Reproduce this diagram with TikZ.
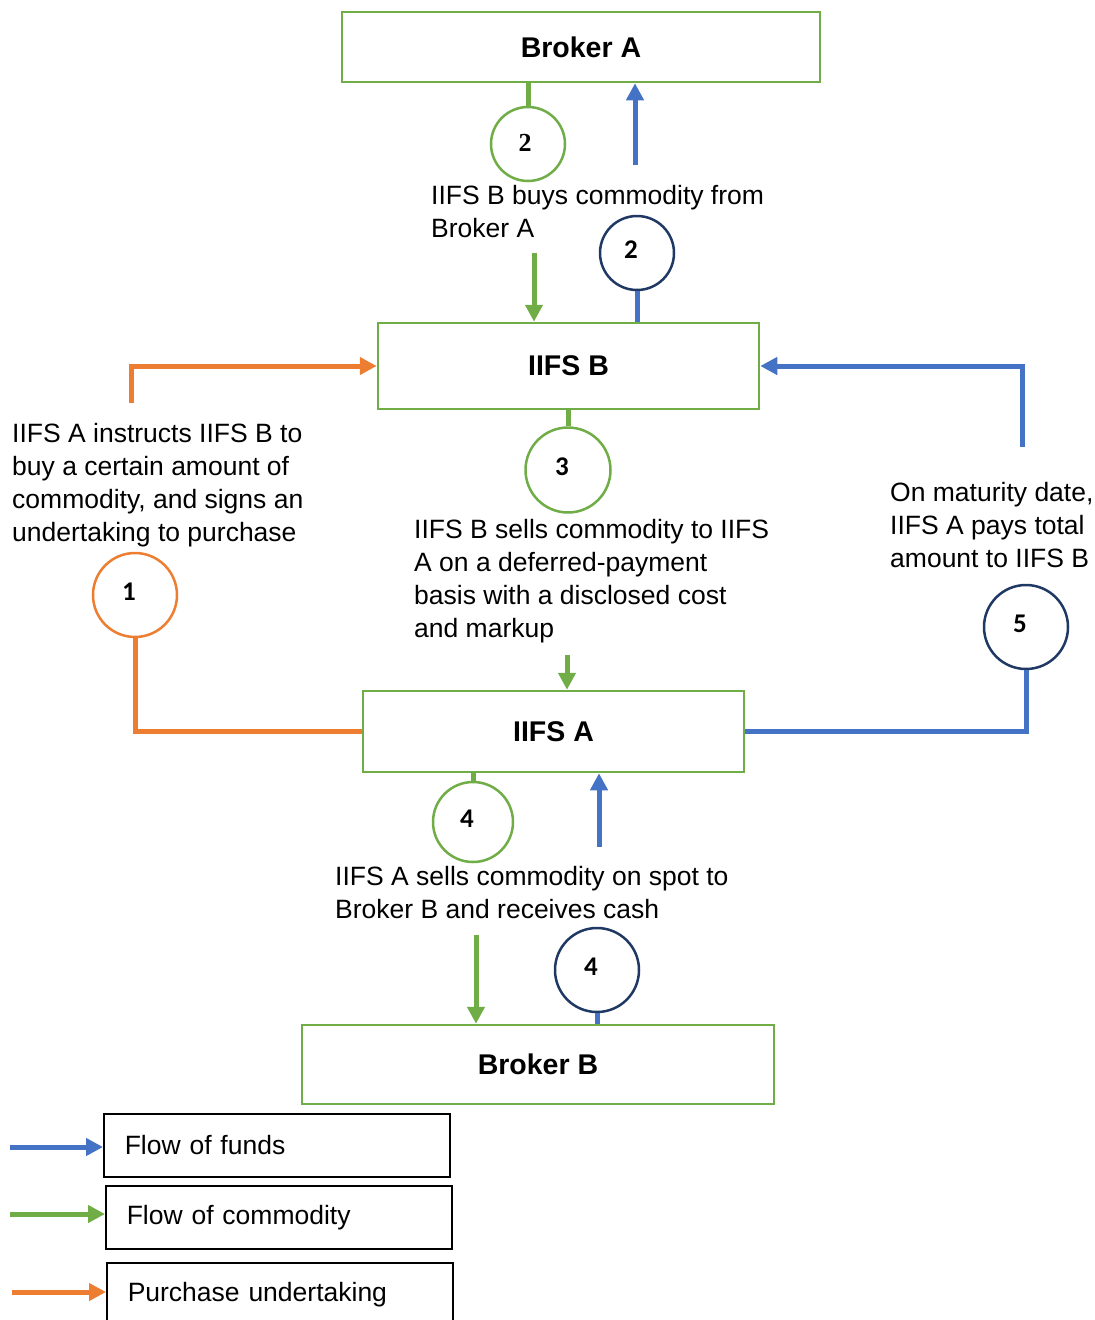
\documentclass[tikz,border=0pt]{standalone}
\usepackage{fontspec}
\setmainfont{Liberation Sans}
\newfontfamily\numfont{Carlito}
\newfontfamily\serfont{Liberation Serif}
\usetikzlibrary{arrows.meta}
\definecolor{cgreen}{HTML}{70AD47}
\definecolor{cblue}{HTML}{4472C4}
\definecolor{corange}{HTML}{ED7D31}
\definecolor{cnavy}{HTML}{1F3864}
\newcommand{\stepdigit}[1]{\raisebox{6pt}{#1}\kern12pt\relax}
\begin{document}
\begin{tikzpicture}[x=1pt,y=-1pt,
  entity/.style={draw=cgreen,line width=2.5pt,inner sep=0pt,font=\fontsize{28.5}{34}\selectfont\bfseries},
  stepno/.style={circle,draw=#1,line width=2.5pt,inner sep=0pt,fill=white,font=\numfont\fontsize{27}{30}\selectfont\bfseries},
  desc/.style={anchor=base west,align=left,inner sep=0pt,font=\fontsize{26.5}{33}\selectfont},
  conn/.style={line width=5pt,draw=#1},
  tip/.style={-{Triangle[length=17pt,width=17pt]}},
  legbox/.style={draw=black,line width=1.5pt,anchor=north west,minimum width=346pt,minimum height=63pt,text width=304pt,inner xsep=21pt,align=left,font=\fontsize{26.5}{33}\selectfont}]
\clip (0,0) rectangle (1095,1320);

% entity boxes
\node[entity,minimum width=478pt,minimum height=70pt] (brokerA) at (581,47) {Broker A};
\node[entity,minimum width=381pt,minimum height=86pt] (iifsB) at (568.5,366) {IIFS B};
\node[entity,minimum width=381pt,minimum height=81pt] (iifsA) at (553.5,731.5) {IIFS A};
\node[entity,minimum width=472pt,minimum height=79pt] (brokerB) at (538,1064.5) {Broker B};

% step circles
\node[stepno=cgreen,minimum size=74pt,font=\serfont\fontsize{26}{30}\selectfont\bfseries] (c2g) at (528,144) {\raisebox{2pt}{2}\kern6pt\relax};
\node[stepno=cnavy,minimum size=74pt] (c2b) at (637,253) {\stepdigit{2}};
\node[stepno=cgreen,minimum size=85pt] (c3) at (568,470) {\stepdigit{3}};
\node[stepno=corange,minimum size=84pt] (c1) at (135,595) {\stepdigit{1}};
\node[stepno=cnavy,minimum size=84pt] (c5) at (1026,627) {\stepdigit{5}};
\node[stepno=cgreen,minimum size=80pt] (c4g) at (473,822) {\stepdigit{4}};
\node[stepno=cnavy,minimum size=84pt] (c4b) at (597,970) {\stepdigit{4}};

% descriptions (base anchor = baseline of the last line)
\node[desc] (t2) at (431,237) {IIFS B buys commodity from\\Broker A};
\node[desc] (t1) at (12,541) {IIFS A instructs IIFS B to\\buy a certain amount of\\commodity, and signs an\\undertaking to purchase};
\node[desc] (t3) at (414,637) {IIFS B sells commodity to IIFS\\A on a deferred-payment\\basis with a disclosed cost\\and markup};
\node[desc] (t5) at (890,567) {On maturity date,\\IIFS A pays total\\amount to IIFS B};
\node[desc] (t4) at (335,918) {IIFS A sells commodity on spot to\\Broker B and receives cash};

% free ends
\coordinate (f1) at (635,165);
\coordinate (g1) at (534,253);
\coordinate (o1) at (131,403);
\coordinate (b5) at (1022,447);
\coordinate (g2) at (567,655);
\coordinate (f4) at (599,847);
\coordinate (g4) at (476,935);

% step 2
\draw[conn=cgreen] (c2g.north) -- (c2g.north |- brokerA.south);
\draw[conn=cblue,tip] (f1) -- (f1 |- brokerA.south);
\draw[conn=cgreen,tip] (g1) -- (g1 |- iifsB.north);
\draw[conn=cblue] (c2b.south) -- (c2b.south |- iifsB.north);
% step 1
\draw[conn=corange,tip] (o1) |- (iifsB.west);
\draw[conn=corange] (c1.south) |- (iifsA.west);
% step 3
\draw[conn=cgreen] (c3.north) -- (c3.north |- iifsB.south);
\draw[conn=cgreen,tip] (g2) -- (g2 |- iifsA.north);
% step 5
\draw[conn=cblue,tip] (b5) |- (iifsB.east);
\draw[conn=cblue] (c5.south) |- (iifsA.east);
% step 4
\draw[conn=cgreen] (c4g.north) -- (c4g.north |- iifsA.south);
\draw[conn=cblue,tip] (f4) -- (f4 |- iifsA.south);
\draw[conn=cgreen,tip] (g4) -- (g4 |- brokerB.north);
\draw[conn=cblue] (c4b.south) -- (c4b.south |- brokerB.north);

% legend
\node[legbox] (lb1) at (103,1113) {Flow of funds};
\node[legbox] (lb2) at (105,1185) {Flow of commodity};
\node[legbox] (lb3) at (106,1262) {Purchase undertaking};
\coordinate (la1) at (10,1147);
\coordinate (la2) at (10,1214);
\coordinate (la3) at (12,1292);
\draw[conn=cblue,tip] (la1) -- (la1 -| lb1.west);
\draw[conn=cgreen,tip] (la2) -- (la2 -| lb2.west);
\draw[conn=corange,tip] (la3) -- (la3 -| lb3.west);
\end{tikzpicture}
\end{document}
